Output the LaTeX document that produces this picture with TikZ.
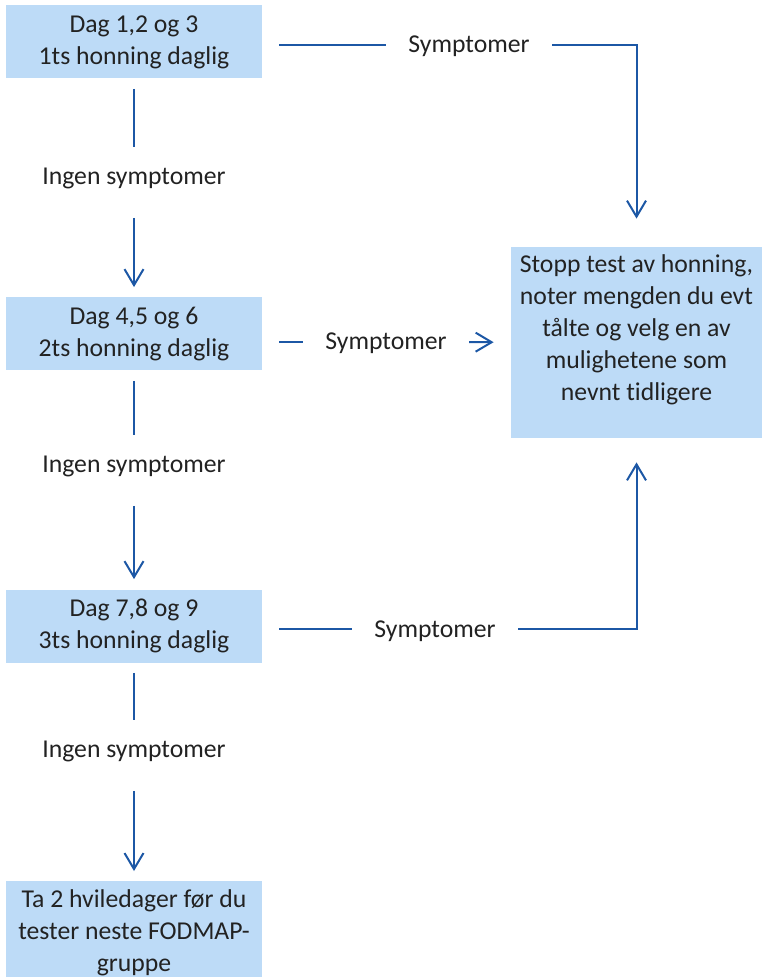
\documentclass[tikz,border=0pt]{standalone}
\usepackage{fontspec}
\setmainfont{Carlito}[Ligatures=NoCommon]
\usepackage{xcolor}
\usepackage{tikz}
\usetikzlibrary{arrows.meta,positioning}

\definecolor{boxblue}{RGB}{189,219,247}
\definecolor{lineblue}{RGB}{28,87,165}
\definecolor{txtgray}{RGB}{34,34,34}

\begin{document}
\begin{tikzpicture}[
  x=0.5pt, y=-0.5pt,
  every node/.style={font=\fontsize{12.85}{16}\selectfont, text=txtgray},
  box/.style={rectangle, fill=boxblue, minimum width=128pt, minimum height=36.5pt, inner sep=2pt, align=center},
  lbl/.style={inner xsep=0pt, inner ysep=10pt},
  sym/.style={inner xsep=11pt, inner ysep=0pt, text height=8pt, text depth=0pt},
  link/.style={draw=lineblue, line width=1pt},
  arrow/.style={link, -{Straight Barb[length=8pt,width=9.5pt]}}
]
\useasboundingbox (0,0) rectangle (762,977);

% Test days
\node[box] (dag1) at (134,42) {Dag 1,2 og 3\\1ts honning daglig};
\node[box] (dag2) at (134,334) {Dag 4,5 og 6\\2ts honning daglig};
\node[box] (dag3) at (134,626) {Dag 7,8 og 9\\3ts honning daglig};
\node[box, anchor=north, minimum height=0pt, inner ysep=4pt] (hvile) at (134,881)
  {Ta 2 hviledager før du\\tester neste FODMAP-\\gruppe};

% Stop box
\node[box, minimum width=125.5pt, minimum height=95.5pt, text depth=14.5pt] (stopp) at (636.5,342.5)
  {Stopp test av honning,\\noter mengden du evt\\tålte og velg en av\\mulighetene som\\nevnt tidligere};

% Labels
\node[lbl] (ingen1) at (134,178) {Ingen symptomer};
\node[lbl] (ingen2) at (134,466) {Ingen symptomer};
\node[lbl] (ingen3) at (134,751) {Ingen symptomer};
\node[sym] (symp1) at (469,45) {Symptomer};
\node[sym] (symp2) at (386,342) {Symptomer};
\node[sym] (symp3) at (435,629) {Symptomer};

% Down the left
\draw[link, shorten <=5pt] (dag1) -- (ingen1);
\draw[arrow, shorten <=4.5pt, shorten >=5pt] (ingen1) -- (dag2);
\draw[link, shorten <=5pt] (dag2) -- (ingen2);
\draw[arrow, shorten <=4.5pt, shorten >=5pt] (ingen2) -- (dag3);
\draw[link, shorten <=5pt] (dag3) -- (ingen3);
\draw[arrow, shorten <=4.5pt, shorten >=5pt] (ingen3) -- (hvile);

% Over to the stop box
\draw[link, shorten <=8.5pt] (dag1.east |- symp1) -- (symp1);
\draw[arrow, shorten >=14pt] (symp1) -| (stopp);
\draw[link, shorten <=8.5pt] (dag2.east |- symp2) -- (symp2);
\draw[arrow, shorten >=8.5pt] (symp2) -- (stopp);
\draw[link, shorten <=8.5pt] (dag3.east |- symp3) -- (symp3);
\draw[arrow, shorten >=12pt] (symp3) -| (stopp);

\end{tikzpicture}
\end{document}
